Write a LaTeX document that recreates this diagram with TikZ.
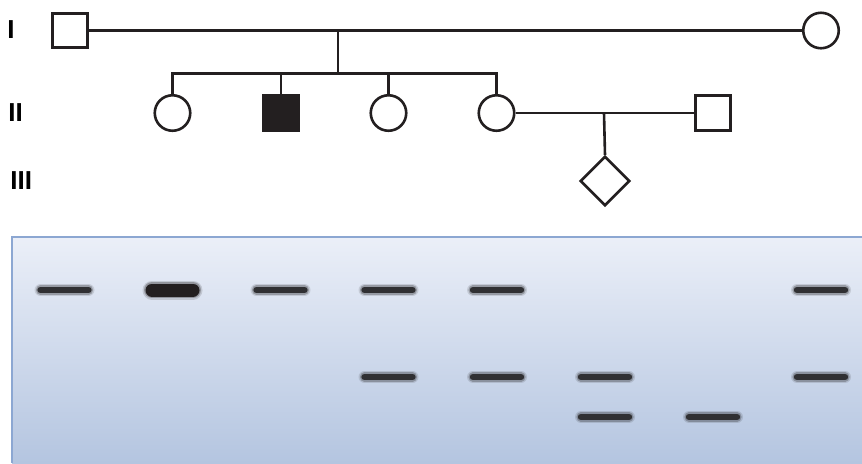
\documentclass[tikz,border=0pt]{standalone}
\usepackage{fontspec}
\setsansfont{Liberation Sans}
\usetikzlibrary{positioning,shapes.geometric}
\definecolor{inkCol}{HTML}{231F20}
\definecolor{gelTop}{HTML}{EBEFF8}
\definecolor{gelBot}{HTML}{B4C5E0}
\definecolor{gelEdge}{HTML}{8CA7D2}
\definecolor{bandCol}{HTML}{303033}

\begin{document}
\begin{tikzpicture}[x=0.5pt,y=-0.5pt]
  \tikzset{
    male/.style={draw=inkCol, line width=1.3pt, rectangle, minimum size=17.25pt, inner sep=0pt},
    female/.style={draw=inkCol, line width=1.3pt, circle, minimum size=17.75pt, inner sep=0pt},
    unknown/.style={draw=inkCol, line width=1.3pt, diamond, minimum size=24.75pt, inner sep=0pt},
    affected/.style={fill=inkCol},
    link/.style={draw=inkCol, line width=1.3pt},
    gen/.style={font=\sffamily\bfseries\fontsize{13}{15}\selectfont, anchor=west, inner sep=0pt},
    halo/.style={draw=bandCol, line width=6pt, line cap=round, opacity=0.15},
    glow/.style={draw=bandCol, line width=4.6pt, line cap=round, opacity=0.3},
    band/.style={draw=bandCol, line width=3.2pt, line cap=round},
  }
  \useasboundingbox[fill=white] (0,0) rectangle (862,463);
  % generation numbers
  \node[gen] (genI) at (7,30) {I};
  \node[gen] (genII) at (8,113) {II};
  \node[gen] (genIII) at (10,181) {III};
  % pedigree
  \node[male] (I1) at (70,30.5) {};
  \node[female] (I2) at (821,30.5) {};
  \node[female] (II1) at (172.5,113) {};
  \node[male, affected] (II2) at (281,113) {};
  \node[female] (II3) at (388.5,113) {};
  \node[female] (II4) at (496.5,113) {};
  \node[male] (II5) at (713,113) {};
  \node[unknown] (III1) at (605,181) {};
  \coordinate (m1) at (338,30.5);
  \coordinate (sib) at (338,73.3);
  \coordinate (m2) at (604,113);
  \draw[link] (I1) -- (I2);
  \draw[link] (m1) -- (sib);
  \draw[link] (II1.north) |- (II4.north |- sib) -- (II4.north);
  \foreach \c in {II2,II3} \draw[link] (\c.north) -- (\c.north |- sib);
  \draw[link] (II4) -- (II5);
  \draw[link] (m2) -- (III1.north);
  % gel
  \shade[top color=gelTop, bottom color=gelBot] (12,237) rectangle (862,463);
  \draw[gelEdge, line width=1pt] (12,463) -- (12,237) -- (862,237);
  \foreach \x/\y in {64.5/290, 280.5/290, 388.5/290, 497/290, 821/290,
                     388.5/377, 497/377, 605/377, 821/377, 605/417, 713/417} {
    \draw[halo] (\x-24,\y) -- (\x+24,\y);
    \draw[glow] (\x-24,\y) -- (\x+24,\y);
    \draw[band] (\x-24,\y) -- (\x+24,\y);
  }
  % strong band, lane 2
  \draw[halo, line width=9.5pt, draw=inkCol] (152,290) -- (193,290);
  \draw[glow, line width=8pt, draw=inkCol] (152,290) -- (193,290);
  \draw[band, line width=6.5pt, draw=inkCol] (152,290) -- (193,290);
\end{tikzpicture}
\end{document}
